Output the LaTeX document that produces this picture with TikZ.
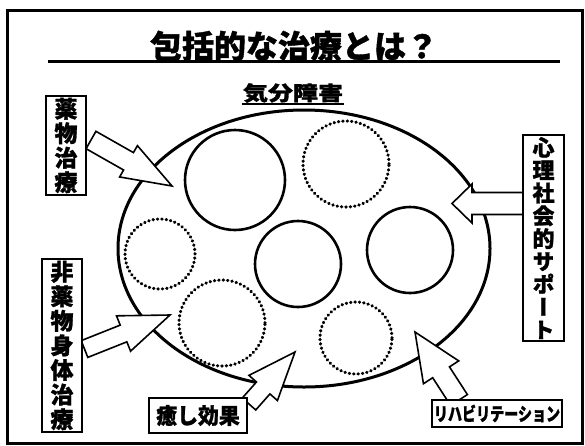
\documentclass[tikz,border=0pt]{standalone}
\usepackage{fontspec}
\setmainfont{Noto Sans CJK JP}[BoldFeatures={FakeBold=1.2}]
\newfontfamily\jpv{Noto Sans CJK JP}[RawFeature=+vert,BoldFeatures={FakeBold=1.2}]
\usetikzlibrary{calc}
\newcommand\blockarrow[5]{% tail, tip, shaft half width, head half width, head length
  \coordinate (bkN) at ($(#2)!#5!(#1)$);
  \draw[blk] ($(#1)!#3!90:(#2)$) -- ($(bkN)!#3!-90:(#1)$) -- ($(bkN)!#4!-90:(#1)$) -- (#2)
    -- ($(bkN)!#4!90:(#1)$) -- ($(bkN)!#3!90:(#1)$) -- ($(#1)!#3!-90:(#2)$) -- cycle;
}
\begin{document}
\begin{tikzpicture}[x=1pt,y=-1pt,
  frame/.style={line width=3pt},
  box/.style={draw, line width=1.8pt, fill=white, inner sep=0pt, font=\bfseries},
  vbox/.style={box, align=center},
  solidc/.style={draw, line width=2.6pt},
  dotc/.style={draw, line width=3.2pt, line cap=round, dash pattern=on 0.4pt off 4pt},
  blk/.style={draw, line width=1.6pt, fill=white, line join=miter},
]
\useasboundingbox (0,0) rectangle (585,445);
\fill[white] (0,0) rectangle (585,445);
\draw[frame] (7,10) rectangle (582,443);

% title
\node[font=\bfseries\fontsize{32}{32}\selectfont] (title) at (294,46) {包括的な治療とは？};
\coordinate (ulA) at (48,61);
\coordinate (ulB) at (560,61);
\draw[line width=3pt] (ulA) -- (ulB);

% mood disorder
\node[font=\bfseries\fontsize{25}{25}\selectfont, inner sep=1pt] (kibun) at (293,93) {\scalebox{1}[0.8]{気分障害}};
\draw[line width=1.6pt] (kibun.south west) -- (kibun.south east);

\draw[line width=3pt] (304,248.5) ellipse [x radius=186pt, y radius=138.5pt];

% circles
\draw[solidc] (235,180) circle [radius=50pt];
\draw[dotc]   (346,164) circle [radius=43pt];
\draw[dotc]   (160,254) circle [radius=35pt];
\draw[solidc] (298,264) circle [radius=43pt];
\draw[solidc] (410,250) circle [radius=43pt];
\draw[dotc]   (222,323) circle [radius=43pt];
\draw[dotc]   (356,338) circle [radius=36pt];

% arrows
\coordinate (t1) at (91,140);   \coordinate (h1) at (172,186);
\coordinate (t2) at (84.5,349); \coordinate (h2) at (170,315);
\coordinate (t3) at (249,404);  \coordinate (h3) at (295,352);
\coordinate (t4) at (459,400);  \coordinate (h4) at (415,332);
\coordinate (t5) at (523,203.5);\coordinate (h5) at (452,203.5);
\blockarrow{t1}{h1}{10pt}{18pt}{50pt}
\blockarrow{t2}{h2}{9pt}{19pt}{50pt}
\blockarrow{t3}{h3}{9pt}{19pt}{48pt}
\blockarrow{t4}{h4}{10pt}{21pt}{48pt}
\blockarrow{t5}{h5}{11pt}{19.5pt}{20pt}

% boxes
\node[vbox, minimum width=40pt, minimum height=99pt, font=\jpv\bfseries\fontsize{23}{24.5}\selectfont] (yaku) at (66,145.5) {薬\\物\\治\\療};
\node[vbox, minimum width=40pt, minimum height=173pt, font=\jpv\bfseries\fontsize{23}{24.6}\selectfont] (hiyaku) at (62,345.5) {非\\薬\\物\\身\\体\\治\\療};
\node[vbox, minimum width=41pt, minimum height=206pt, font=\jpv\bfseries\fontsize{22}{22.8}\selectfont] (shinri) at (543.5,238) {心\\理\\社\\会\\的\\サ\\ポ\\ー\\ト};
\node[box, minimum width=98pt, minimum height=35pt, font=\bfseries\fontsize{22}{22}\selectfont] (iyashi) at (198,415.5) {\scalebox{0.95}[1]{癒し効果}};
\node[box, minimum width=130pt, minimum height=27pt, font=\bfseries\fontsize{18.5}{18.5}\selectfont] (riha) at (497,413.5) {\scalebox{0.76}[1]{リハビリテーション}};
\end{tikzpicture}
\end{document}
